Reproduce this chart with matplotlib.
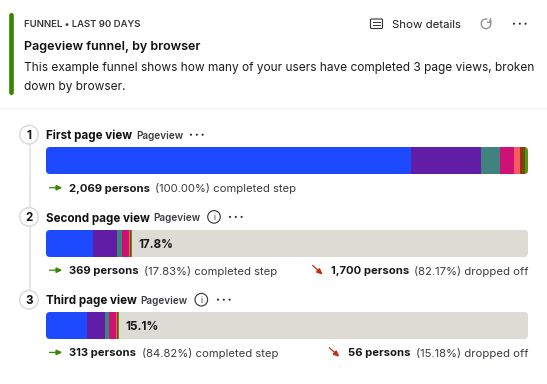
import matplotlib
matplotlib.use("Agg")
import matplotlib.pyplot as plt
import numpy as np
from matplotlib.patches import FancyBboxPatch, Rectangle, Circle, FancyArrowPatch

plt.rcParams['font.family'] = ['Inter', 'DejaVu Sans']

W, H = 547, 384
browsers = ['Chrome', 'Safari', 'Edge', 'Firefox', 'Samsung', 'Opera', 'Other']
colors = ['#1D4AFF', '#621DA6', '#42827E', '#CE1175', '#FF5664', '#7C440E', '#529A0A']
first_step = [1567, 300, 82, 60, 26, 20, 14]
second_step = [203, 103, 21, 28, 6, 4, 4]
third_step = [176, 76, 19, 29, 5, 4, 4]
step_values = [first_step, second_step, third_step]
total = 2069
step_names = ['First page view', 'Second page view', 'Third page view']
conv_labels = ['', '17.8%', '15.1%']
completed_bold = ['2,069 persons', '369 persons', '313 persons']
completed_rest = ['(100.00%) completed step', '(17.83%) completed step', '(84.82%) completed step']
dropped_bold = ['', '1,700 persons', '56 persons']
dropped_rest = ['', '(82.17%) dropped off', '(15.18%) dropped off']

INK = '#1b1c1f'
MUTED = '#3a3b40'
fig = plt.figure(figsize=(W / 100, H / 100), dpi=100, facecolor='white')
ov = fig.add_axes([0, 0, 1, 1], zorder=1)
ov.set_xlim(0, W); ov.set_ylim(H, 0); ov.axis('off')
top = fig.add_axes([0, 0, 1, 1], zorder=3)
top.set_xlim(0, W); top.set_ylim(H, 0); top.axis('off'); top.patch.set_alpha(0)


def T(x, y, s, size, weight='normal', color=INK, ha='left'):
    return top.text(x, y, s, fontsize=size, fontweight=weight, color=color, ha=ha, va='center_baseline')


def dots(x, y, gap=6.0):
    for i in range(3):
        top.add_patch(Circle((x + i * gap, y), 1.05, color='#2b2c30', lw=0))


def arrow(p0, p1, color):
    top.add_patch(FancyArrowPatch(p0, p1, arrowstyle='-|>,head_length=2.4,head_width=1.1',
                                  color=color, lw=0.9, mutation_scale=1.5, shrinkA=0, shrinkB=0,
                                  joinstyle='miter', capstyle='butt'))


# header
ov.add_patch(FancyBboxPatch((9.2, 13), 4.6, 82, boxstyle='round,pad=0,rounding_size=2.3', fc='#388600', ec='none'))
T(24.4, 23.5, 'FUNNEL • LAST 90 DAYS', 6.85, 'semibold', '#35363a')
T(24.4, 45.5, 'Pageview funnel, by browser', 9.0, 'semibold', '#111')
T(24.4, 66.3, 'This example funnel shows how many of your users have completed 3 page views, broken', 8.56, 'normal', INK)
T(24.4, 85.8, 'down by browser.', 8.56, 'normal', INK)
T(391.5, 23.7, 'Show details', 8.27, 'normal', INK)
top.add_patch(FancyBboxPatch((370.5, 19), 12, 9.5, boxstyle='round,pad=0,rounding_size=1', fc='none', ec='#333', lw=0.8))
top.plot([373, 380], [22.3, 22.3], color='#333', lw=0.7)
top.plot([373, 380], [25.3, 25.3], color='#333', lw=0.7)
theta = np.deg2rad(np.linspace(-40, 280, 40))
top.plot(486 + 4.8 * np.cos(theta), 23.8 + 4.8 * np.sin(theta), color='#8a8b8e', lw=0.9)
top.plot([490.5, 491, 487.5], [18.8, 22.3, 22.3], color='#8a8b8e', lw=0.9)
dots(514, 23.7, 5.8)
ov.add_patch(Rectangle((0, 107.5), W, 1.6, fc='#f0f0ec', ec='none'))

# steps
bar_top = [147, 230, 312]
bar_h = 27
title_y = [134.7, 216.9, 299.7]
foot_y = [187.7, 270.2, 352.4]
pill_x = [136.3, 153, 140.7]
info_x = [None, 214, 201.3]
dots_x = [191, 230, 218]
comp_rest_x = [154.7, 144, 142]
drop_bold_x = [None, 330.7, 348]
drop_rest_x = 528
arrow_x = [None, 312.3, 329]
label_x = [None, 138.7, 125.3]

ov.plot([29.5, 29.5], [134, 299], color='#e3e3de', lw=1.2, zorder=1)

for i, vals in enumerate(step_values):
    y0 = bar_top[i]
    ax = fig.add_axes([46 / W, 1 - (y0 + bar_h) / H, 482 / W, bar_h / H], zorder=2)
    ax.set_xlim(0, total); ax.set_ylim(-0.5, 0.5); ax.axis('off')
    clip = FancyBboxPatch((46, y0), 482, bar_h, boxstyle='round,pad=0,rounding_size=4',
                          transform=ov.transData, fc='none', ec='none')
    ov.add_patch(clip)
    track = ax.barh([0], [total], height=1.0, color='#dcdcd4', lw=0)
    track[0].set_clip_path(clip)
    left = 0
    for v, c in zip(vals, colors):
        b = ax.barh([0], [v], left=left, height=1.0, color=c, lw=0)
        b[0].set_clip_path(clip)
        left += v
    if conv_labels[i]:
        T(label_x[i], y0 + 13.5, conv_labels[i], 8.4, 'bold', '#17181b')
    # step circle
    ov.add_patch(Circle((29, title_y[i]), 9.3, fc='white', ec='#dadad6', lw=1.1, zorder=2))
    T(29, title_y[i], str(i + 1), 8.3, 'bold', '#111', ha='center')
    T(46, title_y[i], step_names[i], 8.35, 'bold', '#111')
    T(pill_x[i], title_y[i] + 0.5, 'Pageview', 7.2, 'semibold', '#3c3d42')
    if info_x[i]:
        top.add_patch(Circle((info_x[i], title_y[i]), 6.3, fc='none', ec='#333', lw=0.8))
        T(info_x[i], title_y[i], 'i', 6, 'normal', '#333', ha='center')
    dots(dots_x[i], title_y[i], 5.8)
    # footer
    fy = foot_y[i]
    arrow((49, fy), (62.5, fy), '#388600')
    T(69.3, fy, completed_bold[i], 8.1, 'bold', '#17181b')
    T(comp_rest_x[i], fy, completed_rest[i], 8.1, 'normal', MUTED)
    if dropped_bold[i]:
        arrow((arrow_x[i], fy - 5), (arrow_x[i] + 10.5, fy + 4.5), '#c92a10')
        T(drop_bold_x[i], fy, dropped_bold[i], 8.1, 'bold', '#17181b')
        T(drop_rest_x, fy, dropped_rest[i], 8.1, 'normal', MUTED, ha='right')

fig.savefig('out.png', dpi=100, facecolor='white')
